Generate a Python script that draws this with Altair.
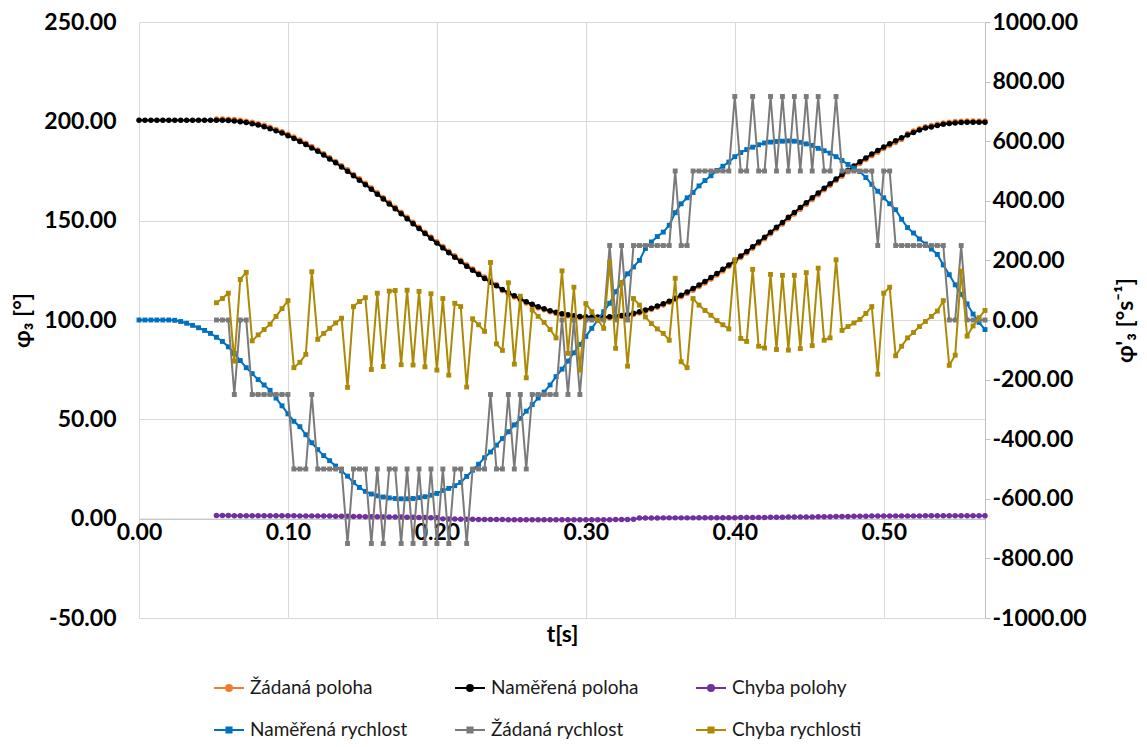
import altair as alt
import pandas as pd

FONT = "Lato"

SERIES = ["Žádaná poloha", "Naměřená poloha", "Chyba polohy",
          "Naměřená rychlost", "Žádaná rychlost", "Chyba rychlosti"]
COLORS = ["#ED7D31", "#000000", "#7030A0", "#0070C0", "#7A7A7A", "#AC8A06"]

X_TICKS = [0.0, 0.1, 0.2, 0.3, 0.4, 0.5]
YL_TICKS = [-50, 0, 50, 100, 150, 200, 250]
YR_TICKS = [-1000, -800, -600, -400, -200, 0, 200, 400, 600, 800, 1000]

# sample times (4 ms sampling)
t_all = [round(i * 0.004, 3) for i in range(143)]
START_DESIRED = 13  # desired / error series start at t = 0.052

namerena_poloha = (
    [200.5] * 14 +
    [200.5, 200.4, 200.2, 199.8, 199.4, 198.8, 198.1, 197.3, 196.3, 195.2,
     194.1, 192.8, 191.4, 189.9, 188.3, 186.6, 184.9, 183.0, 181.0, 179.1,
     177.0, 174.9, 172.6, 170.4, 168.1, 165.8, 163.3, 160.9, 158.4, 156.0,
     153.5, 151.0, 148.5, 146.0, 143.5, 141.1, 138.7, 136.3, 133.9, 131.6,
     129.4, 127.1, 125.0, 122.9, 120.9, 119.0, 117.2, 115.4, 113.7, 112.2,
     110.7, 109.2, 107.9, 106.7, 105.7, 104.7, 103.9, 103.2, 102.6, 102.2,
     101.8, 101.6, 101.5] +
    [101.5] +
    [101.5, 101.6, 101.9, 102.3, 102.8, 103.4, 104.1, 105.0, 105.9, 107.0,
     108.2, 109.5, 110.9, 112.5, 114.1, 115.8, 117.6, 119.4, 121.4, 123.4,
     125.5, 127.7, 129.9, 132.2, 134.5, 136.9, 139.3, 141.7, 144.2, 146.7,
     149.1, 151.7, 154.1, 156.6, 159.0, 161.5, 163.9, 166.3, 168.6, 171.0,
     173.2, 175.4, 177.5, 179.6, 181.6, 183.5, 185.3, 187.1, 188.7, 190.2,
     191.7, 193.1, 194.4, 195.6, 196.6, 197.2, 197.9, 198.5, 198.9, 199.2,
     199.4, 199.5, 199.5, 199.5, 199.5]
)

zadana_poloha = (
    [201.2] +
    [201.2, 201.1, 200.9, 200.5, 200.1, 199.5, 198.8, 198.0, 197.0, 195.9,
     194.8, 193.5, 192.1, 190.6, 189.0, 187.3, 185.6, 183.7, 181.7, 179.8,
     177.7, 175.6, 173.3, 171.1, 168.8, 166.5, 164.0, 161.6, 159.1, 156.7,
     154.2, 151.7, 149.2, 146.7, 144.2, 141.8, 139.4, 137.0, 134.6, 132.3,
     130.1, 127.8, 125.7, 123.6, 121.6, 119.7, 117.9] +
    [114.8, 113.1, 111.6, 110.1, 108.6, 107.3, 106.1, 105.1, 104.1, 103.3,
     102.6, 102.0, 101.6, 101.2, 101.0, 100.9] +
    [100.9] +
    [100.9, 101.0, 101.3, 101.7, 102.2, 102.8, 103.5, 104.4, 105.3, 106.4,
     107.6, 108.9, 110.3] +
    [111.7, 113.3, 115.0, 116.8, 118.6, 120.6, 122.6, 124.7, 126.9, 129.1,
     131.4, 133.7, 136.1, 138.5, 140.9, 143.4, 145.9, 148.3, 150.9, 153.3,
     155.8, 158.2, 160.7, 163.1, 165.5, 167.8, 170.2, 172.4, 174.6, 176.7,
     178.8, 180.8, 182.7, 184.5, 186.3, 187.9, 189.4, 190.9] +
    [193.8, 195.1, 196.3, 197.3, 197.9, 198.6, 199.2, 199.6, 199.9, 200.1,
     200.2, 200.2, 200.2, 200.2]
)

chyba_polohy = (
    [1.6, 1.6, 1.6, 1.5, 1.5, 1.5, 1.5, 1.5, 1.5, 1.5, 1.5, 1.5, 1.5, 1.5,
     1.4, 1.4, 1.4, 1.4] +
    [1.3, 1.3, 1.2, 1.2, 1.2, 1.1, 1.1, 1.0, 1.0, 1.0, 0.9, 0.9, 0.8, 0.8,
     0.7, 0.7, 0.6, 0.6, 0.5, 0.5] +
    [-0.1, -0.2, -0.2, -0.3, -0.3, -0.3, -0.4, -0.4, -0.4, -0.4, -0.4,
     -0.5, -0.5, -0.5, -0.5, -0.5, -0.5, -0.5, -0.5, -0.5, -0.5, -0.5,
     -0.5, -0.5, -0.5, -0.5, -0.5, -0.5, -0.5, -0.4, -0.4, -0.4, -0.3] +
    [0.3, 0.3, 0.3, 0.3, 0.4, 0.4, 0.4, 0.4, 0.4, 0.4, 0.5, 0.5, 0.5, 0.5,
     0.5, 0.5, 0.5, 0.6, 0.6, 0.6, 0.6, 0.6, 0.7, 0.7, 0.7, 0.8, 0.8] +
    [0.9, 0.9, 0.9, 1.0, 1.0, 1.0, 1.1, 1.1, 1.1, 1.2, 1.2, 1.2, 1.3, 1.3,
     1.3, 1.3, 1.4, 1.4, 1.4, 1.4, 1.4, 1.5, 1.5, 1.5, 1.5, 1.5, 1.5, 1.5,
     1.5, 1.5, 1.5, 1.5]
)

namerena_rychlost = [
    0, 0, 0, 0, 0, 0, -1, -5, -11, -18,
    -26, -35, -45, -58, -72, -90, -112, -136, -160, -180,
    -200, -218, -236, -262, -288, -315, -340, -358, -385, -412,
    -435, -455, -472, -490, -506, -524, -545, -562, -575, -584,
    -590, -594, -597, -599, -600, -600, -599, -596, -593, -588,
    -582, -572, -565, -556, -545, -525, -504, -484, -462, -443,
    -420, -398, -375, -352, -330, -306, -284, -262, -242, -218,
    -190, -165, -138, -110, -82, -55, -28, 0, 28, 56,
    95, 125, 155, 178, 200, 240, 262, 280, 295, 318,
    360, 390, 410, 428, 450, 468, 484, 502, 516, 530,
    548, 562, 572, 580, 588, 594, 597, 599, 600, 601,
    600, 596, 591, 586, 576, 568, 560, 548, 535, 522,
    510, 498, 478, 455, 432, 410, 390, 370, 338, 310,
    292, 272, 255, 238, 220, 185, 152, 118, 86, 54,
    20, -8, -32,
]

zadana_rychlost = [
    0, 0, 0, -250, 0, 0, -250, -250, -250, -250,
    -250, -250, -250, -500, -500, -500, -250, -500, -500, -500,
    -500, -500, -750, -500, -500, -500, -750, -500, -750, -500,
    -500, -750, -500, -750, -500, -750, -500, -750, -500, -750,
    -500, -500, -750, -500, -500, -500, -250, -500, -500, -250,
    -500, -250, -500, -250, -250, -250, -250, -250, 0, -250,
    0, -250, 0, 0, 0, 0, 250, 0, 250, 0,
    250, 250, 250, 250, 250, 250, 250, 500, 250, 250,
    500, 500, 500, 500, 500, 500, 500, 750, 500, 500,
    750, 500, 500, 750, 500, 750, 500, 750, 500, 750,
    500, 750, 500, 500, 750, 500, 500, 500, 500, 500,
    500, 250, 500, 500, 250, 250, 250, 250, 250, 250,
    250, 250, 250, 0, 0, 250, 0, 0, 0, 0,
]

chyba_rychlosti = [
    58, 72, 90, -138, 136, 160, -70, -50, -32, -14,
    12, 38, 65, -160, -142, -115, 162, -65, -45, -28,
    -10, 6, -226, 45, 62, 75, -166, 90, -156, 97,
    99, -150, 100, -151, 96, -157, 88, -168, 72, -185,
    56, 45, -225, 4, -16, -38, 193, -80, -102, 125,
    -148, 80, -194, 34, 12, -8, -32, -60, 165, -112,
    110, -168, 55, 28, 0, -28, 194, -95, 125, -155,
    72, 50, 10, -12, -30, -45, -68, 140, -140, -160,
    72, 50, 32, 16, -2, -16, -30, 202, -62, -72,
    170, -88, -94, 153, -99, 150, -101, 150, -96, 159,
    -86, 174, -68, -60, 202, -35, -22, -10, 2, 22,
    45, -182, 90, 110, -120, -88, -60, -42, -22, -5,
    12, 30, 65, -152, -118, 164, -54, -20, 8, 32,
]


def rows(name, vals, start):
    return [{"t": t_all[start + j], "v": v, "s": name} for j, v in enumerate(vals)]


pos_df = pd.DataFrame(
    rows(SERIES[0], zadana_poloha, START_DESIRED)
    + rows(SERIES[1], namerena_poloha, 0)
    + rows(SERIES[2], chyba_polohy, START_DESIRED)
)
vel_df = pd.DataFrame(
    rows(SERIES[3], namerena_rychlost, 0)
    + rows(SERIES[4], zadana_rychlost, START_DESIRED)
    + rows(SERIES[5], chyba_rychlosti, START_DESIRED)
)

x_scale = alt.Scale(domain=[0, 0.568], nice=False, zero=False)
yl_scale = alt.Scale(domain=[-50, 250], nice=False, zero=False)
yr_scale = alt.Scale(domain=[-1000, 1000], nice=False, zero=False)

MINUS_FIX = "replace(datum.label, '\u2212', '-')"

x_axis = alt.Axis(
    values=X_TICKS, format=".2f", offset=-99.33, grid=True, gridColor="#D9D9D9",
    gridWidth=1, domain=True, domainColor="#BFBFBF", domainWidth=1, ticks=False,
    labelFlush=False, labelFont=FONT, labelFontSize=23, labelFontWeight="bold",
    labelColor="#000000", labelPadding=3,
    title="t[s]", titleFont=FONT, titleFontSize=23, titleFontWeight="bold",
    titleColor="#000000", titleY=116, titleBaseline="middle",
)
yl_axis = alt.Axis(
    values=YL_TICKS, format=".2f", labelExpr=MINUS_FIX, grid=True,
    gridColor="#D9D9D9", gridWidth=1, domain=False, ticks=False,
    labelFont=FONT, labelFontSize=23, labelFontWeight="bold",
    labelColor="#000000", labelPadding=23,
    title="φ₃ [°]", titleFont=FONT, titleFontSize=23, titleFontWeight="bold",
    titleColor="#000000", titleAngle=270, titleX=-117, titleY=298,
    titleAlign="center", titleBaseline="middle",
)
yr_axis = alt.Axis(
    orient="right", values=YR_TICKS, format=".2f", labelExpr=MINUS_FIX,
    grid=False, domain=True, domainColor="#BFBFBF", domainWidth=1, ticks=True,
    tickColor="#BFBFBF", tickSize=5, labelFont=FONT, labelFontSize=23,
    labelFontWeight="bold", labelColor="#000000", labelPadding=2,
    title="φ'₃ [°s⁻¹]", titleFont=FONT, titleFontSize=23, titleFontWeight="bold",
    titleColor="#000000", titleAngle=270, titleX=140, titleY=298,
    titleAlign="center", titleBaseline="middle",
)


def series_layers(df, name, color, y_scale, y_axis, square):
    base = alt.Chart(df).transform_filter(alt.datum.s == name).encode(
        x=alt.X("t:Q", scale=x_scale, axis=x_axis),
        y=alt.Y("v:Q", scale=y_scale, axis=y_axis),
    )
    line = base.mark_line(strokeWidth=2, color=color)
    if square:
        pts = base.mark_square(size=24, opacity=1, color=color)
    else:
        pts = base.mark_circle(size=30, opacity=1, color=color)
    return [line, pts]


pos_layers = []
for k in range(3):
    pos_layers += series_layers(pos_df, SERIES[k], COLORS[k], yl_scale, yl_axis, False)
vel_layers = []
for k in range(3, 6):
    vel_layers += series_layers(vel_df, SERIES[k], COLORS[k], yr_scale, yr_axis, True)

# legend symbols: a short line with the series marker in the middle
CIRC = ("M-1,0L1,0M-0.2,0A0.2,0.2,0,1,0,0.2,0A0.2,0.2,0,1,0,-0.2,0Z"
        "M-0.07,0A0.07,0.07,0,1,0,0.07,0A0.07,0.07,0,1,0,-0.07,0Z")
SQ = ("M-1,0L1,0M-0.17,-0.17L0.17,-0.17L0.17,0.17L-0.17,0.17Z"
      "M-0.05,-0.05L0.05,-0.05L0.05,0.05L-0.05,0.05Z")
SHAPES = [CIRC, CIRC, CIRC, SQ, SQ, SQ]


def make_legend():
    return alt.Legend(
        title=None, orient="none", legendX=74, legendY=650, direction="horizontal",
        columns=3, gridAlign="all", symbolSize=900, symbolStrokeWidth=2,
        labelFont=FONT, labelFontSize=19, labelColor="#1A1A1A", labelOffset=5,
        rowPadding=16, columnPadding=43, padding=0, labelLimit=400,
    )


legend_layer = alt.Chart(pos_df).transform_filter("datum.v > 100000").mark_point(
    filled=False, strokeWidth=2, size=900, opacity=1
).encode(
    color=alt.Color("s:N", scale=alt.Scale(domain=SERIES, range=COLORS),
                    legend=make_legend()),
    shape=alt.Shape("s:N", scale=alt.Scale(domain=SERIES, range=SHAPES),
                    legend=make_legend()),
)

chart = alt.layer(
    alt.layer(*pos_layers),
    alt.layer(*vel_layers),
    legend_layer,
).resolve_scale(y="independent").properties(
    width=846, height=596,
    padding={"left": 131, "top": 14, "right": 154, "bottom": 121},
    autosize=alt.AutoSizeParams(type="none"),
    background="white",
).configure_view(stroke=None)

chart.save("out.html", embed_options={"renderer": "svg", "actions": False})
